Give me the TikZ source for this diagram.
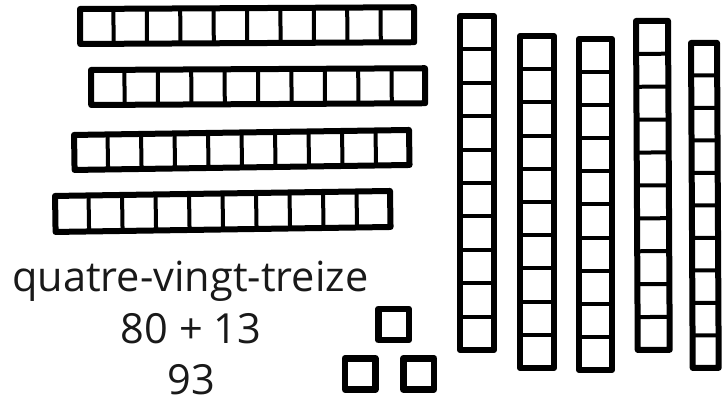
\documentclass[tikz,border=0pt]{standalone}
\usepackage{fontspec}
\setmainfont{Open Sans}
\usepackage{tikz}
\usetikzlibrary{positioning}

\tikzset{
  rodframe/.style={draw=black, line width=6pt, line join=round, fill=white},
  celldiv/.style={draw=black, line width=4pt},
  bigtext/.style={font=\fontsize{41.5}{48}\selectfont, text=black!90, inner sep=0pt},
}

% ten-rod lying flat: top-left corner, width, height, tilt
\newcommand{\hrod}[4]{%
  \begin{scope}[shift={(#1)}, rotate=#4]
    \draw[rodframe] (3,3) rectangle ({#2-3},{#3-3});
    \foreach \k in {1,...,9}
      \draw[celldiv] ({3+\k*(#2-6)/10},3) -- ({3+\k*(#2-6)/10},{#3-3});
  \end{scope}}

% ten-rod standing up
\newcommand{\vrod}[4]{%
  \begin{scope}[shift={(#1)}, rotate=#4]
    \draw[rodframe] (3,3) rectangle ({#2-3},{#3-3});
    \foreach \k in {1,...,9}
      \draw[celldiv] (3,{3+\k*(#3-6)/10}) -- ({#2-3},{3+\k*(#3-6)/10});
  \end{scope}}

\begin{document}
\begin{tikzpicture}[x=1pt, y=-1pt]
    \useasboundingbox[fill=white] (0,0) rectangle (724,401);

    % tens lying down
    \hrod{77,6}{340}{41}{0.3}
    \hrod{88,67}{340}{41}{0.3}
    \hrod{71,132}{341}{41}{0.85}
    \hrod{52,193}{341}{42}{0.85}

    % tens standing up
    \vrod{457,13}{40}{340}{0}
    \vrod{517,33}{40}{338}{0}
    \vrod{576,36}{39}{337}{0}
    \vrod{633,18}{38}{335}{0.3}
    \vrod{688,40}{32}{331}{0.3}

    % ones
    \draw[rodframe, line width=6.5pt] (378.25,309) rectangle (408.75,340);
    \draw[rodframe, line width=6.5pt] (345,358.25) rectangle (375.25,389.5);
    \draw[rodframe, line width=6.5pt] (403.25,358.25) rectangle (434,389.5);

    \node[bigtext, anchor=base west] (words) at (12,292) {quatre-vingt-treize};
    \node[bigtext, anchor=base] (sum) at (191,343) {80 + 13};
    \node[bigtext, anchor=base, text depth=0pt] (total) at (191,394) {93};
\end{tikzpicture}
\end{document}
